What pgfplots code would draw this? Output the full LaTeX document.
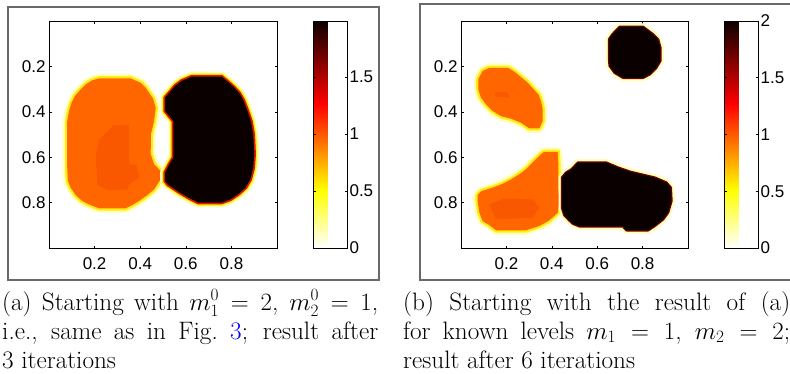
\documentclass[border=0pt]{standalone}
\usepackage{pgfplots}
\usepackage{pgfplotstable}
\pgfplotsset{compat=1.18}
\usepackage{fontspec}
\newfontfamily\arialf{Liberation Sans}

\definecolor{orgA}{RGB}{255,102,0}
\definecolor{orgD}{RGB}{250,88,0}
\definecolor{blk}{RGB}{11,0,0}
\definecolor{fringeY}{RGB}{255,238,20}
\definecolor{fringeP}{RGB}{255,255,185}
\definecolor{fringeR}{RGB}{220,25,0}
\definecolor{fringeDR}{RGB}{110,0,0}
\definecolor{framec}{RGB}{105,105,105}

% ---------- panel (a) blobs ----------
\pgfplotstableread{
x y
0.219 0.253
0.358 0.253
0.402 0.272
0.424 0.294
0.439 0.316
0.456 0.341
0.468 0.382
0.461 0.441
0.447 0.499
0.446 0.587
0.461 0.631
0.490 0.661
0.494 0.690
0.480 0.712
0.461 0.742
0.431 0.767
0.395 0.793
0.365 0.811
0.336 0.825
0.219 0.825
0.175 0.808
0.146 0.793
0.117 0.767
0.095 0.734
0.083 0.705
0.080 0.646
0.080 0.441
0.088 0.396
0.099 0.360
0.114 0.330
0.139 0.301
0.161 0.279
0.190 0.261
}\Aone
\pgfplotstableread{
x y
0.285 0.458
0.351 0.458
0.351 0.631
0.383 0.634
0.398 0.690
0.351 0.720
0.344 0.742
0.256 0.746
0.212 0.720
0.205 0.587
0.222 0.521
0.249 0.492
}\Aonein
\pgfplotstableread{
x y
0.626 0.245
0.757 0.245
0.787 0.270
0.811 0.292
0.835 0.318
0.853 0.350
0.870 0.394
0.886 0.441
0.896 0.499
0.900 0.587
0.896 0.646
0.883 0.698
0.862 0.734
0.832 0.761
0.796 0.786
0.757 0.800
0.655 0.800
0.611 0.778
0.574 0.756
0.543 0.735
0.523 0.722
0.509 0.705
0.509 0.668
0.528 0.631
0.545 0.602
0.545 0.441
0.528 0.419
0.509 0.396
0.509 0.338
0.532 0.311
0.553 0.286
0.582 0.264
}\Atwo

% ---------- panel (b) blobs ----------
\pgfplotstableread{
x y
0.095 0.220
0.125 0.206
0.206 0.206
0.235 0.223
0.264 0.247
0.294 0.272
0.320 0.301
0.341 0.323
0.352 0.352
0.360 0.389
0.360 0.441
0.345 0.473
0.301 0.473
0.264 0.448
0.220 0.430
0.176 0.419
0.139 0.396
0.110 0.367
0.088 0.338
0.076 0.301
0.076 0.257
}\Bone
\pgfplotstableread{
x y
0.150 0.312
0.205 0.314
0.215 0.338
0.150 0.334
}\Bonein
\pgfplotstableread{
x y
0.367 0.576
0.426 0.576
0.429 0.631
0.429 0.734
0.433 0.800
0.426 0.844
0.411 0.859
0.385 0.881
0.345 0.903
0.286 0.922
0.154 0.922
0.125 0.899
0.095 0.881
0.081 0.844
0.073 0.793
0.073 0.767
0.091 0.749
0.139 0.734
0.184 0.717
0.220 0.698
0.257 0.675
0.286 0.653
0.308 0.631
0.330 0.609
0.352 0.587
}\Btwo
\pgfplotstableread{
x y
0.125 0.808
0.191 0.781
0.316 0.786
0.345 0.822
0.316 0.866
0.154 0.874
}\Btwoin
\pgfplotstableread{
x y
0.699 0.026
0.802 0.026
0.846 0.059
0.868 0.081
0.878 0.117
0.878 0.176
0.860 0.206
0.831 0.235
0.802 0.250
0.714 0.250
0.677 0.228
0.655 0.198
0.652 0.162
0.652 0.081
0.667 0.059
}\Bthree
\pgfplotstableread{
x y
0.445 0.690
0.463 0.668
0.485 0.655
0.500 0.640
0.515 0.624
0.640 0.624
0.692 0.646
0.744 0.664
0.802 0.678
0.853 0.690
0.905 0.712
0.924 0.734
0.927 0.793
0.912 0.844
0.890 0.874
0.853 0.903
0.824 0.922
0.729 0.922
0.714 0.905
0.523 0.905
0.493 0.893
0.477 0.878
0.455 0.855
0.445 0.822
}\Bfour

\pgfplotsset{
  colormap={hotr}{rgb(0pt)=(1,1,1); rgb(16pt)=(1,1,0); rgb(40pt)=(1,0,0); rgb(63pt)=(0.0417,0,0)},
  tickfont/.style={font=\arialf\fontsize{17}{17}\selectfont},
  imgaxis/.style={
    scale only axis, height=227pt,
    xmin=0, xmax=1, ymin=0, ymax=1, y dir=reverse,
    xtick={0.2,0.4,0.6,0.8}, ytick={0.2,0.4,0.6,0.8},
    tick align=inside, tick pos=both, major tick length=2.5pt,
    axis line style={line width=0.9pt},
    every tick/.style={black, line width=0.6pt},
    ticklabel style={tickfont},
    xticklabel style={yshift=-6pt},
    /pgf/number format/assume math mode=true,
    colormap name=hotr, point meta min=0,
    colorbar,
  },
  cbstyle/.style={
    at={(parent axis.north east)}, anchor=north west, xshift=28pt,
    scale only axis, width=34pt, height=227pt,
    tick align=inside, ytick pos=both, yticklabel pos=right,
    major tick length=2.5pt,
    axis line style={line width=0.9pt},
    every tick/.style={black, line width=0.6pt},
    ticklabel style={tickfont},
    yticklabel style={xshift=-1.5pt},
    /pgf/number format/assume math mode=true,
  },
  oblob/.style={fill=orgA, draw=none, line join=round,
    preaction={draw=fringeP, line width=9pt, line join=round},
    preaction={draw=fringeY, line width=4.5pt, line join=round}},
  iblob/.style={fill=orgD, draw=none},
  kblobA/.style={fill=blk, draw=none, line join=round,
    preaction={draw=fringeP, line width=10pt, line join=round},
    preaction={draw=fringeY, line width=6.5pt, line join=round},
    preaction={draw=fringeR, line width=3.5pt, line join=round}},
  kblobB/.style={fill=blk, draw=none, line join=round,
    preaction={draw=fringeP, line width=7pt, line join=round},
    preaction={draw=fringeDR, line width=2.5pt, line join=round}},
}
\tikzset{capfont/.style={font=\fontsize{25.2}{29}\selectfont, inner sep=0pt, anchor=base west}}

\begin{document}
\begin{tikzpicture}
\useasboundingbox (0pt,0pt) rectangle (790pt,373pt);
\fill[white] (0pt,0pt) rectangle (790pt,373pt);
\draw[framec, line width=1.1pt] (8pt,93pt) rectangle (379pt,366pt);
\draw[framec, line width=1.1pt] (420pt,93pt) rectangle (805pt,369pt);

\begin{axis}[imgaxis, at={(49pt,125pt)}, anchor=south west, width=228pt,
  point meta max=1.99,
  colorbar style={cbstyle, ytick={0,0.5,1,1.5}}]
\addplot[oblob] table {\Aone} -- cycle;
\addplot[iblob] table {\Aonein} -- cycle;
\addplot[kblobA] table {\Atwo} -- cycle;
\end{axis}

\begin{axis}[imgaxis, at={(461pt,125pt)}, anchor=south west, width=227pt,
  point meta max=2,
  colorbar style={cbstyle, ytick={0,0.5,1,1.5,2}}]
\addplot[oblob] table {\Bone} -- cycle;
\addplot[iblob] table {\Bonein} -- cycle;
\addplot[oblob] table {\Btwo} -- cycle;
\addplot[iblob] table {\Btwoin} -- cycle;
\addplot[kblobB] table {\Bthree} -- cycle;
\addplot[kblobB] table {\Bfour} -- cycle;
\end{axis}

% captions
\node[capfont] at (2pt,63pt) {\makebox[376pt][s]{(a) Starting with $m_1^0 = 2$, $m_2^0 = 1$,}};
\node[capfont] at (2pt,34pt) {\makebox[376pt][s]{i.e., same as in Fig.~\textcolor{blue}{3}; result after}};
\node[capfont] at (2pt,5pt) {3 iterations};
\node[capfont] at (403pt,63pt) {\makebox[387pt][s]{(b) Starting with the result of (a)}};
\node[capfont] at (403pt,34pt) {\makebox[387pt][s]{for known levels $m_1 = 1$, $m_2 = 2$;}};
\node[capfont] at (403pt,5pt) {result after 6 iterations};
\end{tikzpicture}
\end{document}
